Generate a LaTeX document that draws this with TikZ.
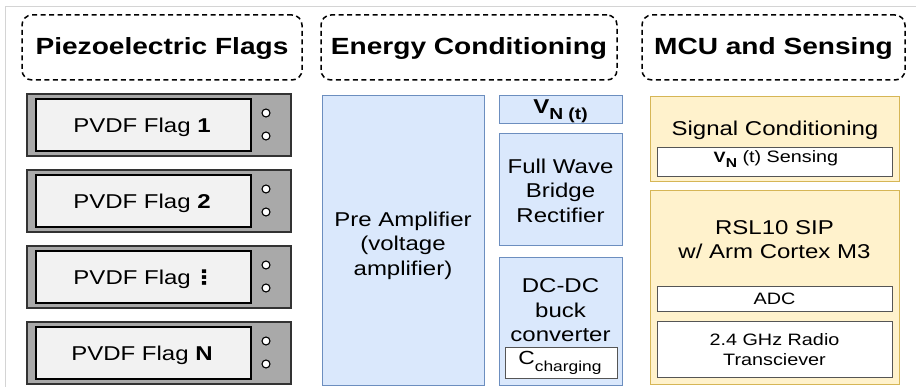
\documentclass[tikz,border=0pt]{standalone}
\usepackage{fontspec}
\setmainfont{Liberation Sans}[FakeStretch=1.2]
\newfontfamily\dejavu{DejaVu Sans}[FakeStretch=1.2]
\definecolor{bluefill}{HTML}{DAE8FC}
\definecolor{bluedraw}{HTML}{6C8EBF}
\definecolor{yelfill}{HTML}{FFF2CC}
\definecolor{yeldraw}{HTML}{D6B656}
\definecolor{flaggray}{HTML}{A9A9A9}
\definecolor{flagdark}{HTML}{333333}
\definecolor{flaginner}{HTML}{F2F2F2}
\definecolor{framegray}{HTML}{D4D4D4}
\definecolor{boxdark}{HTML}{555555}
\newcommand\fs[2]{\fontsize{#1}{#2}\selectfont}
\tikzset{
  header/.style={draw=black, dashed, dash pattern=on 5pt off 3.5pt, line width=1.5pt,
    rounded corners=10pt, inner sep=0pt, outer sep=0pt, anchor=north west},
  bluebox/.style={draw=bluedraw, fill=bluefill, line width=1pt, inner sep=0pt, outer sep=0pt, anchor=north west},
  yelbox/.style={draw=yeldraw, fill=yelfill, line width=1pt, inner sep=0pt, outer sep=0pt, anchor=north west},
  whitebox/.style={draw=boxdark, fill=white, line width=1pt, inner sep=0pt, outer sep=0pt, anchor=north west},
  flagout/.style={draw=flagdark, fill=flaggray, line width=1.5pt, minimum width=264pt, minimum height=62pt,
    inner sep=0pt, outer sep=0pt, anchor=north west},
  flagin/.style={draw=black, fill=flaginner, line width=1.8pt, minimum width=215pt, minimum height=52pt,
    inner sep=0pt, outer sep=0pt, anchor=north west},
  flagdot/.style={circle, draw=black, fill=white, line width=1.1pt, minimum size=8pt, inner sep=0pt},
  title/.style={inner sep=0pt, font=\fs{23.4}{28}\bfseries, anchor=base},
  txt/.style={inner sep=0pt, font=\fs{20}{24.5}, align=center},
  smalltxt/.style={inner sep=0pt, font=\fs{16.5}{19.5}, align=center},
}
\newcommand\pvdfflag[3]{%
  \node[flagout] (#1) at (27,#2) {};
  \node[flagin] (#1in) at (36,#2+5) {};
  \node[flagdot] (#1a) at (266,#2+19) {};
  \node[flagdot] (#1b) at (266,#2+42) {};
  \node[txt, anchor=base] (#1t) at (142,#2+39) {PVDF Flag #3};
}
\begin{document}
\begin{tikzpicture}[x=1pt, y=-1pt]
\useasboundingbox (0,0) rectangle (916,387);
\fill[white] (0,0) rectangle (916,387);
\draw[framegray, line width=1pt] (5,387) -- (5,7) -- (916,7);

% headers
\node[header, minimum width=280pt, minimum height=65pt] (h1) at (22,15) {};
\node[title] (h1t) at (h1.center |- 0,55) {Piezoelectric Flags};
\node[header, minimum width=296pt, minimum height=65pt] (h2) at (321,15) {};
\node[title] (h2t) at (h2.center |- 0,55) {Energy Conditioning};
\node[header, minimum width=263pt, minimum height=65pt] (h3) at (642,15) {};
\node[title] (h3t) at (h3.center |- 0,55) {MCU and Sensing};

% flags
\pvdfflag{f1}{94}{\textbf{1}}
\pvdfflag{f2}{170}{\textbf{2}}
\pvdfflag{f3}{246}{\makebox[13pt]{\dejavu\bfseries ⋮}}
\pvdfflag{fN}{322}{\textbf{N}}

% energy conditioning
\node[bluebox, minimum width=162pt, minimum height=289pt] (pre) at (322,96) {};
\node[txt] (pret) at (403,245.5) {Pre Amplifier\\(voltage\\amplifier)};
\node[bluebox, minimum width=123pt, minimum height=28pt] (vn) at (499,96) {};
\node[inner sep=0pt, anchor=base] (vnt) at (560.5,113.5) {\fs{20}{20}\bfseries V\raisebox{-6pt}{\fs{16}{16}\bfseries N (t)}};
\node[bluebox, minimum width=123pt, minimum height=112pt] (fw) at (499,134) {};
\node[txt] (fwt) at (560.5,190.5) {Full Wave\\Bridge\\Rectifier};
\node[bluebox, minimum width=123pt, minimum height=127pt] (dc) at (499,258) {};
\node[txt] (dct) at (560.5,310.5) {DC-DC\\buck\\converter};
\node[whitebox, minimum width=112pt, minimum height=31pt] (cc) at (505,348) {};
\node[inner sep=0pt, anchor=base] (cct) at (560,365) {\fs{19}{19}C\raisebox{-6pt}{\fs{14.5}{14.5}charging}};

% MCU and sensing
\node[yelbox, minimum width=249pt, minimum height=85pt] (sc) at (650,97) {};
\node[txt, anchor=base] (sct) at (775,136) {Signal Conditioning};
\node[whitebox, minimum width=235pt, minimum height=29pt] (sens) at (657,148) {};
\node[inner sep=0pt, anchor=base] (senst) at (776,163) {\fs{15}{15}\bfseries V\raisebox{-5pt}{\fs{13}{13}\bfseries N}\fs{16.5}{16.5}\mdseries\ (t) Sensing};
\node[yelbox, minimum width=249pt, minimum height=193pt] (rsl) at (650,191) {};
\node[txt] (rslt) at (774.5,239.5) {RSL10 SIP\\w/ Arm Cortex M3};
\node[whitebox, minimum width=235pt, minimum height=25pt] (adc) at (657,287) {};
\node[smalltxt, anchor=base] (adct) at (774.5,305) {ADC};
\node[whitebox, minimum width=235pt, minimum height=56pt] (radio) at (657,322) {};
\node[smalltxt] (radiot) at (774.5,349.5) {2.4 GHz Radio\\Transciever};
\end{tikzpicture}
\end{document}
